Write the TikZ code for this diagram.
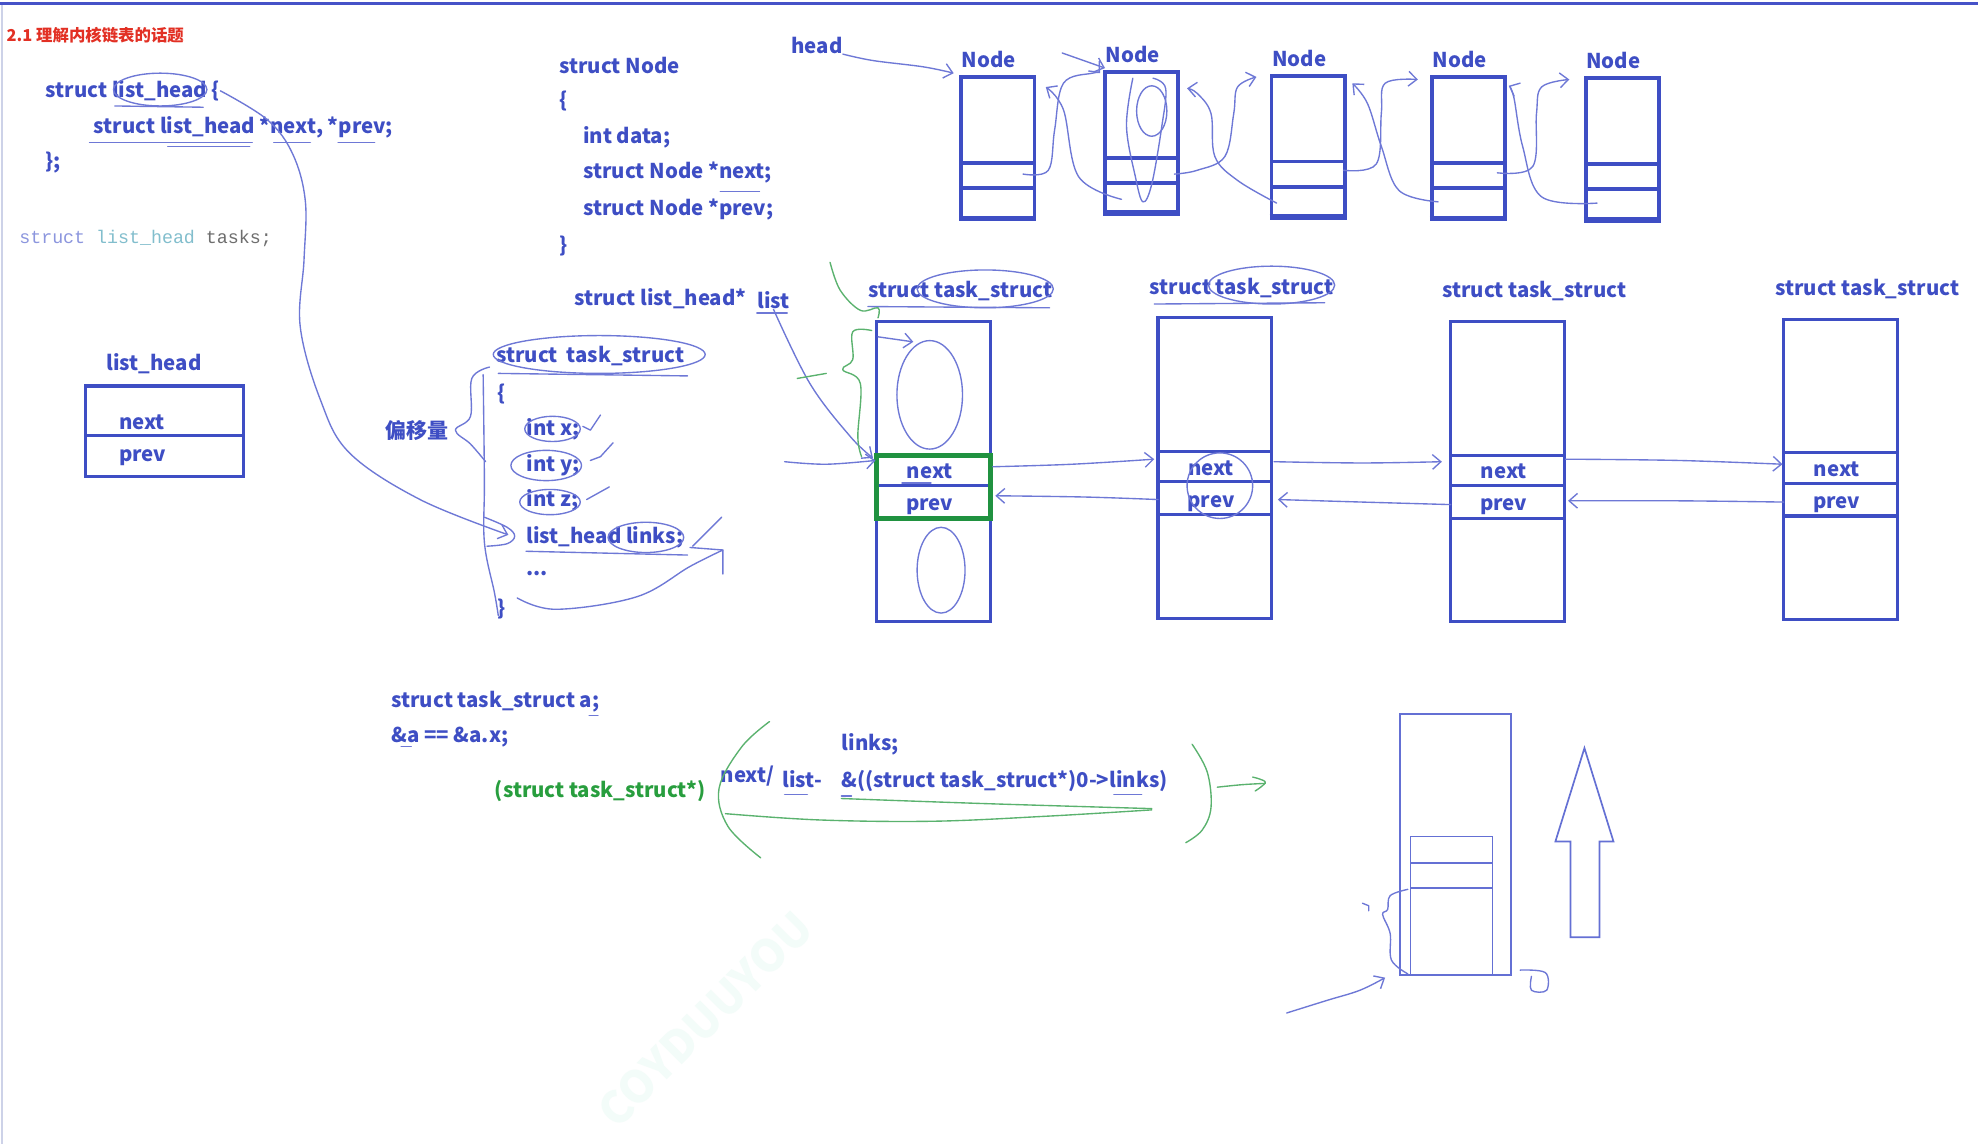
\documentclass[tikz,border=0pt]{standalone}
\usepackage{fontspec}
\setmainfont{Noto Sans CJK SC}
\newfontfamily\monof{Liberation Mono}
\usetikzlibrary{arrows.meta,calc}
\newdimen\unitpx \unitpx=0.6pt
\definecolor{mblue}{RGB}{62,78,196}
\definecolor{hblue}{RGB}{110,120,214}
\definecolor{hgreen}{RGB}{90,178,110}
\definecolor{tgreen}{RGB}{40,158,62}
\definecolor{gbox}{RGB}{32,146,64}
\definecolor{titred}{RGB}{226,48,36}
\definecolor{topc}{RGB}{70,82,200}
\definecolor{leftc}{RGB}{205,210,232}
\definecolor{kwc}{RGB}{140,150,222}
\definecolor{typc}{RGB}{130,190,205}
\definecolor{grayc}{RGB}{110,110,110}
\definecolor{wmc}{RGB}{243,252,249}
\definecolor{lblue}{RGB}{100,112,212}
\tikzset{
 txt/.style={font=\fontsize{9.7}{11.5}\selectfont\bfseries, text=mblue, inner sep=0pt, anchor=west},
 gtxt/.style={txt, text=tgreen},
 hand/.style={draw=hblue, line width=0.65pt, line cap=round, line join=round},
 handg/.style={draw=hgreen, line width=0.65pt, line cap=round, line join=round},
 harr/.style={-{Straight Barb[length=4pt,width=7pt]}},
 boxs/.style={draw=mblue, line width=1.6pt, inner sep=0pt, outer sep=0pt, anchor=north west},
 thinbox/.style={draw=lblue, line width=0.8pt, inner sep=0pt, outer sep=0pt, anchor=north west},
}
\newcommand\NodeBox[3]{%
 \node[boxs, line width=1.8pt, minimum width=58\unitpx, minimum height=113\unitpx] (#1) at (#2,#3) {};
 \draw[mblue, line width=1.8pt] ($(#1.north west)+(0,68)$) -- ($(#1.north east)+(0,68)$);
 \draw[mblue, line width=1.8pt] ($(#1.north west)+(0,88)$) -- ($(#1.north east)+(0,88)$);
 \draw[mblue, line width=2.6pt] ($(#1.south west)+(-1.5,-1)$) -- ($(#1.south east)+(1.5,-1)$);
 \node[txt, anchor=center] (#1lbl) at ($(#1.north)+(-7,-14)$) {Node};
}
\newcommand\TaskBox[3]{%
 \node[boxs, line width=1.5pt, minimum width=90\unitpx, minimum height=238\unitpx] (#1) at (#2,#3) {};
 \foreach \dd in {106,130,156} \draw[mblue, line width=1.5pt] ($(#1.north west)+(0,\dd)$) -- ($(#1.north east)+(0,\dd)$);
 \node[txt, anchor=center] (#1nx) at ($(#1.north west)+(42,119)$) {next};
 \node[txt, anchor=center] (#1pv) at ($(#1.north west)+(42,147)$) {prev};
 \node[txt] (#1lbl) at ($(#1.north west)+(-7,-24)$) {struct task\_struct};
}
\begin{document}
\begin{tikzpicture}[x=0.6pt,y=-0.6pt]
\useasboundingbox (0,0) rectangle (1568,907);
\fill[white] (0,0) rectangle (1568,907);
\draw[topc, line width=1.3pt] (0,3) -- (1568,3);
\draw[leftc, line width=1.2pt] (1.5,4) -- (1.5,907);

% watermark
\node[rotate=45, text=wmc, font=\fontsize{21}{21}\selectfont\bfseries, inner sep=0pt] (wm) at (559,808) {COYDUUYOU};

% title
\node[txt, text=titred, font=\fontsize{7.8}{9}\selectfont\bfseries] (title) at (5,28) {2.1 理解内核链表的话题};

% list_head struct code
\node[txt] (c1a) at (36,72) {struct list\_head \{};
\node[txt] (c1b) at (74,101) {struct list\_head *next, *prev;};
\node[txt] (c1c) at (36,129) {\};};
\node[inner sep=0pt, anchor=west, font=\monof\fontsize{8.7}{10}\selectfont] (tasks) at (15,189) {\textcolor{kwc}{struct} \textcolor{typc}{list\_head} \textcolor{grayc}{tasks;}};

% list_head box
\node[txt, anchor=center] (lhlbl) at (122,288) {list\_head};
\node[boxs, line width=1.5pt, minimum width=125\unitpx, minimum height=72\unitpx] (lhb) at (68,306) {};
\draw[mblue, line width=1.5pt] ($(lhb.north west)+(0,39)$) -- ($(lhb.north east)+(0,39)$);
\node[txt] (lhnx) at (94,335) {next};
\node[txt] (lhpv) at (94,363) {prev};

% struct Node code
\node[txt] (sn1) at (443,52) {struct Node};
\node[txt] (sn2) at (443,80) {\{};
\node[txt] (sn3) at (462,109) {int data;};
\node[txt] (sn4) at (462,137) {struct Node *next;};
\node[txt] (sn5) at (462,166) {struct Node *prev;};
\node[txt] (sn6) at (443,195) {\}};
\node[txt] (head) at (627,36) {head};

% Node boxes
\NodeBox{n1}{762}{61}
\NodeBox{n2}{876}{57}
\NodeBox{n3}{1008}{60}
\NodeBox{n4}{1135}{61}
\NodeBox{n5}{1257}{62}

% middle code
\node[txt] (slh) at (455,237) {struct list\_head*};
\node[txt] (listp) at (600,238) {list};
\node[txt] (ts0) at (393,282) {struct\hspace{0.45em}task\_struct};
\node[txt] (ts1) at (394,312) {\{};
\node[txt] (tsx) at (417,340) {int x;};
\node[txt] (tsy) at (417,369) {int y;};
\node[txt] (tsz) at (417,397) {int z;};
\node[txt] (tsl) at (417,426) {list\_head links;};
\node[txt] (tsd) at (417,455) {...};
\node[txt] (ts2) at (394,483) {\}};
\node[txt, font=\fontsize{10}{12}\selectfont\bfseries] (offs) at (305,341) {偏移量};

% task boxes
\TaskBox{t1}{695}{255}
\TaskBox{t2}{918}{252}
\TaskBox{t3}{1150}{255}
\TaskBox{t4}{1414}{253}
\draw[gbox, line width=2.2pt] (695,361) rectangle (785,411);

% bottom code
\node[txt] (ba) at (310,556) {struct task\_struct a;};
\node[txt] (bb) at (310,584) {\&a == \&a.x;};
\node[gtxt] (bc) at (392,627) {(struct task\_struct*)};
\node[txt] (bn) at (571,615) {next/};
\node[txt] (bl) at (620,618) {list-};
\node[txt] (blk) at (667,590) {links;};
\node[txt] (bof) at (667,619) {\&((struct task\_struct*)0->links)};

% bottom right sketch
\node[thinbox, minimum width=88\unitpx, minimum height=207\unitpx] (br) at (1110,566) {};
\node[thinbox, minimum width=65\unitpx, minimum height=110\unitpx] (bri) at (1118,663) {};
\draw[lblue, line width=0.8pt] ($(bri.north west)+(0,21)$) -- ($(bri.north east)+(0,21)$);
\draw[lblue, line width=0.8pt] ($(bri.north west)+(0,41)$) -- ($(bri.north east)+(0,41)$);
\draw[lblue, line width=0.8pt, line join=miter] (1256,593) -- (1279,667) -- (1268,667) -- (1268,743) -- (1245,743) -- (1245,667) -- (1233,667) -- cycle;

% ---------- hand strokes: list_head code ----------
\draw[hand] (127,71) ellipse [x radius=37, y radius=13];
\draw[hand] (91,84) -- (161,85);
\draw[hand] (71,113) -- (200,113);
\draw[hand] (133,116) -- (198,116);
\draw[hand] (217,113) -- (246,113);
\draw[hand] (268,113) -- (297,113);
\draw[hand,harr] plot[smooth, tension=0.6] coordinates {(c1a.east) (212,95) (232,122) (242,159) (241,206) (238,259) (254,317) (277,359) (333,396) (403,424)};

% ---------- hand strokes: struct Node ----------
\draw[hand] (571,152) -- (602,152);
\draw[hand,harr] plot[smooth, tension=0.6] coordinates {(head.south east) (692,48) (732,53) (756,58)};
\draw[hand,harr] plot[smooth, tension=0.6] coordinates {(811,138) (831,135) (836,103) (843,66) (866,58) (872,58)};
\draw[hand,harr] plot[smooth, tension=0.6] coordinates {(889,158) (855,140) (843,87) (829,69)};
\draw[hand,harr] (842,42) -- (876,54);
\draw[hand] (913,88) ellipse [x radius=12, y radius=20];
\draw[hand] plot[smooth, tension=0.6] coordinates {(898,62) (893,100) (900,140) (906,160) (913,146) (921,100) (924,70) (914,62)};
\draw[hand,harr] plot[smooth, tension=0.6] coordinates {(931,138) (949,135) (971,124) (978,90) (981,69) (996,61)};
\draw[hand,harr] plot[smooth, tension=0.6] coordinates {(1012,161) (981,143) (963,124) (960,90) (949,74) (941,70)};
\draw[hand,harr] plot[smooth, tension=0.6] coordinates {(1065,135) (1091,130) (1095,90) (1098,66) (1124,63)};
\draw[hand,harr] plot[smooth, tension=0.6] coordinates {(1140,160) (1109,151) (1095,116) (1084,82) (1072,66)};
\draw[hand,harr] plot[smooth, tension=0.6] coordinates {(1187,137) (1215,132) (1218,90) (1222,69) (1244,63)};
\draw[hand,harr] plot[smooth, tension=0.6] coordinates {(1266,161) (1222,156) (1207,116) (1200,77) (1196,68)};

% ---------- hand strokes: task_struct code ----------
\draw[hand] (475,281) ellipse [x radius=84, y radius=15];
\draw[hand] (395,296) -- (545,298);
\draw[hand] plot[smooth, tension=0.6] coordinates {(388,291) (374,300) (373,330) (361,341) (373,352) (385,366)};
\draw[hand] plot[smooth, tension=0.6] coordinates {(383,297) (384,380) (384,430) (392,470) (395,488)};
\draw[hand] plot[smooth, tension=0.6] coordinates {(384,410) (402,418) (408,425) (402,431) (386,433)};
\draw[hand] (438,340) ellipse [x radius=22, y radius=10];
\draw[hand] (433,369) ellipse [x radius=28, y radius=12];
\draw[hand] (436,398) ellipse [x radius=24, y radius=10];
\draw[hand] (512,426) ellipse [x radius=30, y radius=12];
\draw[hand] (462,338) -- (468,341) -- (476,329);
\draw[hand] (468,365) -- (476,362) -- (486,351);
\draw[hand] (465,396) -- (483,386);
\draw[hand] (549,433) -- (572,410);
\draw[hand] (417,437) -- (545,440);
\draw[hand] plot[smooth, tension=0.6] coordinates {(410,474) (441,483) (505,473) (547,449) (573,436)};
\draw[hand] (547,434) -- (573,436) -- (573,455);

% ---------- hand strokes: task boxes ----------
\draw[hand] (600,248) -- (624,248);
\draw[hand,harr] plot[smooth, tension=0.6] coordinates {(listp.south) (642,304) (674,346) (692,363)};
\draw[hand,harr] plot[smooth, tension=0.6] coordinates {(622,366) (655,368) (694,365)};
\draw[hand,harr] (696,267) -- (724,271);
\draw[hand] (737,313) ellipse [x radius=26, y radius=43];
\draw[hand] (746,452) ellipse [x radius=19, y radius=34];
\draw[hand] (715,383) -- (738,383);
\draw[hand] (781,229) ellipse [x radius=54, y radius=15];
\draw[hand] (688,243) -- (832,244);
\draw[hand] (1008,226) ellipse [x radius=50, y radius=15];
\draw[hand] (915,241) -- (1050,240);
\draw[hand] (967,385) ellipse [x radius=26, y radius=26];
\draw[handg] plot[smooth, tension=0.6] coordinates {(658,208) (666,230) (682,246) (696,244) (696,252)};
\draw[handg] plot[smooth, tension=0.6] coordinates {(691,262) (676,263) (676,285) (668,293) (682,304) (680,346) (683,362)};
\draw[handg] (632,300) -- (655,296);
\draw[hand,harr] plot[smooth, tension=0.6] coordinates {(787,370) (850,368) (915,364)};
\draw[hand,harr] plot[smooth, tension=0.6] coordinates {(918,396) (860,394) (789,393)};
\draw[hand,harr] plot[smooth, tension=0.6] coordinates {(1010,366) (1080,367) (1143,366)};
\draw[hand,harr] plot[smooth, tension=0.6] coordinates {(1150,400) (1080,398) (1013,396)};
\draw[hand,harr] plot[smooth, tension=0.6] coordinates {(1241,364) (1330,365) (1413,368)};
\draw[hand,harr] plot[smooth, tension=0.6] coordinates {(1414,398) (1330,397) (1243,397)};

% ---------- hand strokes: bottom ----------
\draw[hand] (467,567) -- (474,567);
\draw[hand] (318,592) -- (326,592);
\draw[hand] (622,630) -- (640,630);
\draw[hand] (667,631) -- (675,631);
\draw[hand] (883,630) -- (905,630);
\draw[handg] plot[smooth, tension=0.6] coordinates {(610,572) (588,592) (570,625) (577,655) (603,680)};
\draw[handg] plot[smooth, tension=0.6] coordinates {(575,645) (650,650) (740,651) (830,647) (913,642)};
\draw[handg] plot[smooth, tension=0.6] coordinates {(667,633) (780,637) (913,641)};
\draw[handg] plot[smooth, tension=0.6] coordinates {(945,590) (957,612) (960,640) (953,658) (940,668)};
\draw[handg] plot[smooth, tension=0.6] coordinates {(965,624) (985,622) (1003,621)};
\draw[handg] plot[smooth, tension=0.6] coordinates {(993,616) (1003,620) (995,627)};

% ---------- hand strokes: bottom right ----------
\draw[hand] plot[smooth, tension=0.6] coordinates {(1116,705) (1102,710) (1100,721) (1096,725) (1102,740) (1103,761) (1116,772)};
\draw[hand] (1080,716) -- (1085,718) -- (1085,722);
\draw[hand,harr] plot[smooth, tension=0.6] coordinates {(1020,803) (1052,793) (1078,785) (1098,775)};
\draw[hand] plot[smooth, tension=0.6] coordinates {(1205,769) (1225,771) (1226,785) (1214,785) (1214,774)};
\end{tikzpicture}
\end{document}
